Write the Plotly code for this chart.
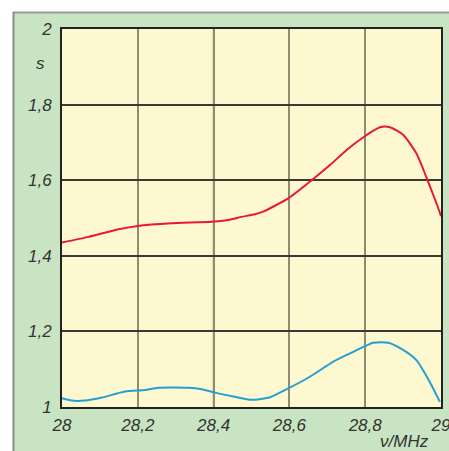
import plotly.graph_objects as go

# Red curve (upper)
red_x = [28.0, 28.07, 28.149, 28.2, 28.289, 28.395, 28.439, 28.474, 28.509, 28.531,
         28.597, 28.654, 28.707, 28.751, 28.8, 28.839, 28.865, 28.9, 28.935, 28.961,
         28.988, 29.0]
red_y = [1.435, 1.450, 1.470, 1.479, 1.486, 1.490, 1.495, 1.503, 1.510, 1.517,
         1.552, 1.596, 1.640, 1.680, 1.717, 1.740, 1.740, 1.720, 1.671, 1.609,
         1.539, 1.505]

# Blue curve (lower)
blue_x = [28.0, 28.025, 28.06, 28.105, 28.166, 28.219, 28.254, 28.333, 28.369, 28.404,
          28.456, 28.5, 28.549, 28.593, 28.654, 28.716, 28.76, 28.8, 28.821, 28.861,
          28.9, 28.935, 28.97, 28.997]
blue_y = [1.023, 1.017, 1.017, 1.025, 1.041, 1.045, 1.051, 1.051, 1.047, 1.038,
          1.027, 1.019, 1.026, 1.047, 1.080, 1.120, 1.142, 1.161, 1.170, 1.170,
          1.151, 1.124, 1.067, 1.014]

x_ticks = [28.0, 28.2, 28.4, 28.6, 28.8, 29.0]
y_ticks = [1.0, 1.2, 1.4, 1.6, 1.8, 2.0]
dark_vlines = [28.4, 28.8]

W, H = 449, 451
L, R, T, B = 62, 8, 29, 44
pw, ph = W - L - R, H - T - B

def px_to_paper_x(px):
    return (px - L) / pw

def px_to_paper_y(py):
    return (H - B - py) / ph

fig = go.Figure()
fig.add_trace(go.Scatter(x=red_x, y=red_y, mode="lines",
                         line=dict(color="#e8183c", width=2, shape="spline", smoothing=0.6),
                         hoverinfo="skip"))
fig.add_trace(go.Scatter(x=blue_x, y=blue_y, mode="lines",
                         line=dict(color="#22a0d2", width=2, shape="spline", smoothing=0.6),
                         hoverinfo="skip"))

tickfont = dict(family="Liberation Sans, Arial, sans-serif", size=17, color="#333333", style="italic")

shapes = []
# white strips outside the green panel
shapes.append(dict(type="rect", xref="paper", yref="paper",
                   x0=px_to_paper_x(-5), x1=px_to_paper_x(W + 5),
                   y0=px_to_paper_y(12), y1=px_to_paper_y(-5),
                   fillcolor="white", line=dict(width=0), layer="below"))
shapes.append(dict(type="rect", xref="paper", yref="paper",
                   x0=px_to_paper_x(-5), x1=px_to_paper_x(13),
                   y0=px_to_paper_y(H + 5), y1=px_to_paper_y(-5),
                   fillcolor="white", line=dict(width=0), layer="below"))
# gray border of panel
shapes.append(dict(type="line", xref="paper", yref="paper",
                   x0=px_to_paper_x(13), x1=px_to_paper_x(W + 5),
                   y0=px_to_paper_y(12.5), y1=px_to_paper_y(12.5),
                   line=dict(color="#9a9a9a", width=2), layer="below"))
shapes.append(dict(type="line", xref="paper", yref="paper",
                   x0=px_to_paper_x(13.5), x1=px_to_paper_x(13.5),
                   y0=px_to_paper_y(12), y1=px_to_paper_y(H + 5),
                   line=dict(color="#8a8a8a", width=2), layer="below"))
# darker vertical grid lines
for v in dark_vlines:
    shapes.append(dict(type="line", xref="x", yref="paper", x0=v, x1=v, y0=0, y1=1,
                       line=dict(color="#4a4a40", width=1.5), layer="between"))

fig.update_layout(
    width=W, height=H,
    autosize=False,
    margin=dict(l=L, r=R, t=T, b=B, autoexpand=False),
    paper_bgcolor="#c9e4c2",
    plot_bgcolor="#fdf8cf",
    showlegend=False,
    separators=",.",
    shapes=shapes,
    xaxis=dict(range=[28, 29], tickvals=x_ticks, showgrid=True, gridcolor="#8f8c70", gridwidth=1.5,
               showline=True, mirror=True, linecolor="#222222", linewidth=2, automargin=False,
               ticklabeloverflow="allow",
               ticks="", tickfont=tickfont, zeroline=False, ticklabelstandoff=2),
    yaxis=dict(range=[1, 2], tickvals=y_ticks, showgrid=True, gridcolor="#3a3a32", gridwidth=1.5,
               showline=True, mirror=True, linecolor="#222222", linewidth=2, automargin=False,
               ticklabeloverflow="allow",
               ticks="", tickfont=tickfont, zeroline=False, ticklabelstandoff=5),
    annotations=[
        dict(text="s", xref="paper", yref="paper", x=px_to_paper_x(40), y=px_to_paper_y(63),
             showarrow=False, font=tickfont, xanchor="center", yanchor="middle"),
        dict(text="ν/MHz", xref="paper", yref="paper", x=px_to_paper_x(404), y=px_to_paper_y(441),
             showarrow=False, font=tickfont, xanchor="center", yanchor="middle"),
    ],
)

fig.write_html("out.html",
               config={"displayModeBar": False, "responsive": False},
               post_script="document.body.style.margin='0';document.body.style.overflow='hidden';")
